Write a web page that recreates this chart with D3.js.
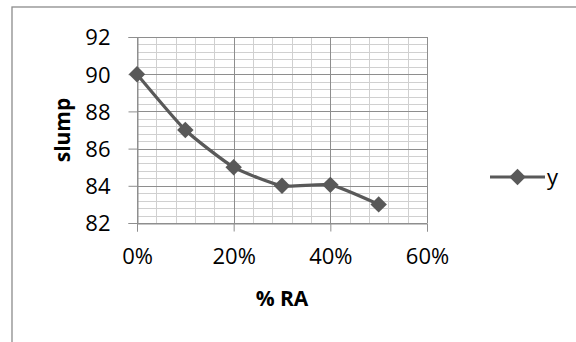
<!DOCTYPE html>
<html>
<head>
<meta charset="utf-8">
<script src="https://cdn.jsdelivr.net/npm/d3@7"></script>
<style>
  html, body { margin: 0; padding: 0; background: #fff; }
  svg { display: block; }
  text { font-family: "Open Sans", "Liberation Sans", sans-serif; fill: #000; }
</style>
</head>
<body>
<script>
// Slump versus recycled-aggregate replacement
const ratios = [0, 0.1, 0.2, 0.3, 0.4, 0.5];
const slump = [90, 87, 85, 84, 84.05, 83];
const seriesName = "y";
const xTicks = [0, 0.2, 0.4, 0.6];
const yTicks = [82, 84, 86, 88, 90, 92];
const xTitle = "% RA";
const yTitle = "slump";

const W = 576, H = 342;
const plot = { left: 137, right: 427, top: 37, bottom: 223 };

const svg = d3.select("body").append("svg")
  .attr("width", W).attr("height", H);

// chart frame (runs off the right and bottom edges)
svg.append("rect")
  .attr("x", 12).attr("y", 7)
  .attr("width", W + 10).attr("height", H + 10)
  .attr("fill", "#fff").attr("stroke", "#8c8c8c").attr("stroke-width", 1.3);

const x = d3.scaleLinear().domain([0, 0.6]).range([plot.left, plot.right]);
const y = d3.scaleLinear().domain([82, 92]).range([plot.bottom, plot.top]);

// minor gridlines
const xMinor = d3.range(0, 0.6001, 0.04);
const yMinor = d3.range(82, 92.001, 0.4);
const grid = svg.append("g");
grid.selectAll(".ym").data(yMinor).join("line")
  .attr("x1", plot.left).attr("x2", plot.right)
  .attr("y1", d => Math.round(y(d)) + 0.5).attr("y2", d => Math.round(y(d)) + 0.5)
  .attr("stroke", "#d0d0d0").attr("stroke-width", 1);
grid.selectAll(".xm").data(xMinor).join("line")
  .attr("y1", plot.top).attr("y2", plot.bottom)
  .attr("x1", d => Math.round(x(d)) + 0.5).attr("x2", d => Math.round(x(d)) + 0.5)
  .attr("stroke", "#d0d0d0").attr("stroke-width", 1);

// major gridlines
grid.selectAll(".yM").data(yTicks).join("line")
  .attr("x1", plot.left).attr("x2", plot.right)
  .attr("y1", d => Math.round(y(d)) + 0.5).attr("y2", d => Math.round(y(d)) + 0.5)
  .attr("stroke", "#8e8e8e").attr("stroke-width", 1);
grid.selectAll(".xM").data(xTicks).join("line")
  .attr("y1", plot.top).attr("y2", plot.bottom)
  .attr("x1", d => Math.round(x(d)) + 0.5).attr("x2", d => Math.round(x(d)) + 0.5)
  .attr("stroke", "#8e8e8e").attr("stroke-width", 1);

// axes
const yAxis = d3.axisLeft(y).tickValues(yTicks).tickSize(9).tickPadding(18)
  .tickFormat(d3.format("d"));
const gy = svg.append("g").attr("transform", `translate(${plot.left + 0.5},0)`).call(yAxis);
gy.select(".domain").attr("stroke", "#8e8e8e");
gy.selectAll(".tick line").attr("stroke", "#8e8e8e");
gy.selectAll(".tick text").attr("font-size", 22).attr("font-family", "Open Sans").attr("fill", "#000")
  .attr("dy", "0.36em");

const xAxis = d3.axisBottom(x).tickValues(xTicks).tickSize(8).tickPadding(17)
  .tickFormat(d3.format(".0%"));
const gx = svg.append("g").attr("transform", `translate(0,${plot.bottom + 0.5})`).call(xAxis);
gx.select(".domain").attr("stroke", "#8e8e8e");
gx.selectAll(".tick line").attr("stroke", "#8e8e8e");
gx.selectAll(".tick text").attr("font-size", 22).attr("font-family", "Open Sans").attr("fill", "#000")
  .attr("dy", "0.71em");

// axis titles
svg.append("text")
  .attr("x", (plot.left + plot.right) / 2).attr("y", 306)
  .attr("text-anchor", "middle").attr("font-size", 21).attr("font-weight", "bold")
  .text(xTitle);
svg.append("text")
  .attr("transform", `translate(70,${(plot.top + plot.bottom) / 2}) rotate(-90)`)
  .attr("text-anchor", "middle").attr("font-size", 21).attr("font-weight", "bold")
  .text(yTitle);

// smoothed series line
const pts = ratios.map((r, i) => [r, slump[i]]);
const line = d3.line().x(d => x(d[0])).y(d => y(d[1])).curve(d3.curveCardinal.tension(0.45));
const color = "#595959";
svg.append("path").datum(pts)
  .attr("d", line).attr("fill", "none")
  .attr("stroke", color).attr("stroke-width", 3.2).attr("stroke-linejoin", "round");

const marker = d3.symbol().type(d3.symbolSquare).size(135);
svg.selectAll(".mk").data(pts).join("path")
  .attr("transform", d => `translate(${x(d[0])},${y(d[1])}) rotate(45)`)
  .attr("d", marker)
  .attr("fill", color);

// legend
const lg = svg.append("g").attr("transform", "translate(490,177)");
lg.append("line").attr("x1", 0).attr("x2", 55).attr("y1", 0).attr("y2", 0)
  .attr("stroke", color).attr("stroke-width", 3.2);
lg.append("path").attr("transform", "translate(27.5,0) rotate(45)")
  .attr("d", marker).attr("fill", color);
lg.append("text").attr("x", 57).attr("y", 0).attr("dy", "0.36em")
  .attr("font-size", 22).text(seriesName);
</script>
</body>
</html>
